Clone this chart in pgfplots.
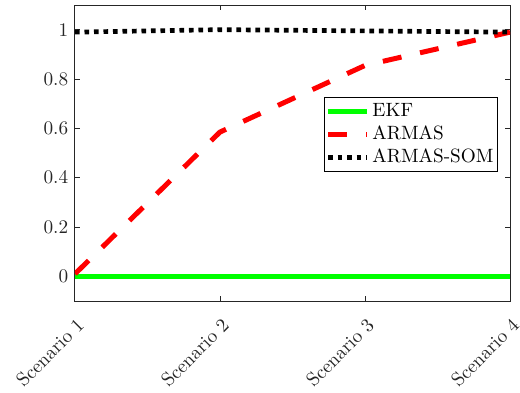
\documentclass[border=0pt]{standalone}
\usepackage{pgfplots}
\pgfplotsset{compat=1.18}

\definecolor{axisgray}{rgb}{0.15,0.15,0.15}

\begin{document}
\begin{tikzpicture}
\begin{axis}[
  at={(0,0)}, anchor=south west,
  scale only axis,
  width=226.2pt, height=153.92pt,
  xmin=1, xmax=4,
  ymin=-0.1, ymax=1.1,
  xtick={1,2,3,4},
  xticklabels={Scenario 1,Scenario 2,Scenario 3,Scenario 4},
  ytick={0,0.2,0.4,0.6,0.8,1},
  yticklabels={0,0.2,0.4,0.6,0.8,1},
  tick align=inside,
  major tick length=2.6pt,
  axis line style={axisgray, line width=0.52pt},
  every tick/.style={axisgray, line width=0.52pt},
  tick label style={color=axisgray},
  xticklabel shift=8.3pt,
  xticklabel style={xshift=5.4pt, rotate=45, anchor=east},
  legend style={at={(0.972,0.689)}, anchor=north east,
    draw=black, line width=0.52pt, fill=white,
    font=\normalsize, row sep=0pt, inner xsep=0.5pt, inner ysep=1.2pt,
    nodes={inner xsep=1.5pt, inner ysep=1.7pt}},
  legend cell align=left,
  legend image code/.code={\draw[#1] (0pt,0pt) -- (20.3pt,0pt);},
]
\addplot[color=green, line width=2.6pt] coordinates {
  (1,0) (2,0) (3,0) (4,0)
};
\addlegendentry{EKF}
\addplot[color=red, line width=2.6pt, dash pattern=on 9.9pt off 9.9pt] coordinates {
  (1,0.01) (2,0.585) (3,0.855) (4,0.99)
};
\addlegendentry{ARMAS}
\addplot[color=black, line width=2.44pt, dash pattern=on 2.44pt off 2.5pt] coordinates {
  (1,0.99) (2,1.0) (3,0.995) (4,0.99)
};
\addlegendentry{ARMAS-SOM}
\end{axis}
\pgfresetboundingbox
\useasboundingbox (-39pt,-47.32pt) rectangle (231.4pt,156.52pt);
\end{tikzpicture}
\end{document}
